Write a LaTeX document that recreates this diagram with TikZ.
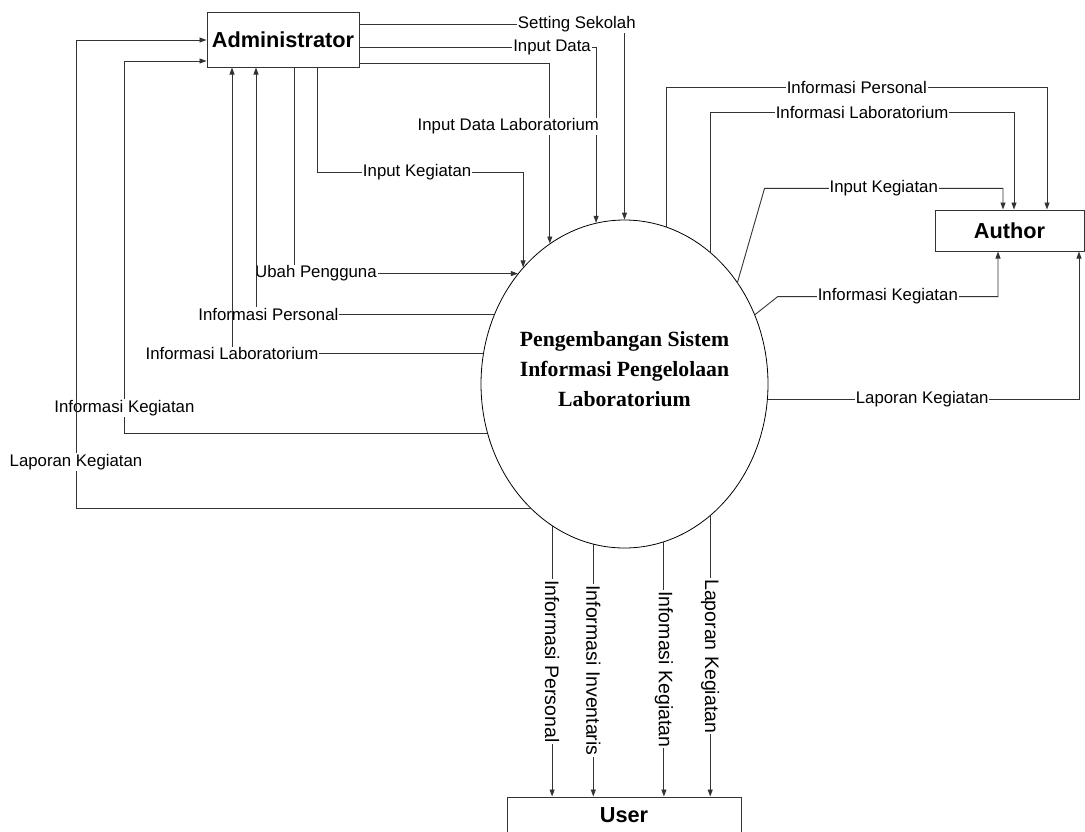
\documentclass[tikz,border=0pt]{standalone}
\usepackage{fontspec}
\setmainfont{Liberation Sans}
\newfontfamily\procfont{Liberation Serif}
\usetikzlibrary{arrows.meta,shapes.geometric}

\begin{document}
\begin{tikzpicture}[x=1pt,y=-1pt,
  flow/.style={draw=black!80, line width=0.9pt, -{Triangle[length=7pt,width=5pt]}},
  lbl/.style={fill=white, inner sep=1pt, text=black, font=\fontsize{16.8}{19}\selectfont},
  vlbl/.style={lbl, rotate=-90, font=\fontsize{19.5}{22}\selectfont},
  entity/.style={draw=black!80, line width=1pt, fill=white, inner sep=0pt,
    font=\bfseries\fontsize{21.7}{24}\selectfont},
]
\useasboundingbox (0,0) rectangle (1085,831);

% external entities and the process
\node[entity, minimum width=152pt, minimum height=55pt] (admin) at (283,39.5) {Administrator};
\node[entity, minimum width=149pt, minimum height=41pt] (author) at (1009.5,230.5) {Author};
\node[entity, minimum width=234pt, minimum height=37pt] (user) at (624,815.5) {User};
\node[ellipse, draw=black, line width=0.8pt, minimum width=287pt, minimum height=328pt,
      inner sep=0pt] (proc) at (624.5,384) {};
\node[font=\procfont\bfseries\fontsize{21.7}{30}\selectfont, align=center, inner sep=0pt]
  (proctext) at ([yshift=14.5pt]proc.center)
  {Pengembangan Sistem\\Informasi Pengelolaan\\Laboratorium};

% Administrator -> process
\draw[flow] ([yshift=15.5pt]admin.east) -| node[lbl,pos=0.41]{Setting Sekolah} (proc.north);
\draw[flow] ([yshift=-7.5pt]admin.east) -| node[lbl,pos=0.407]{Input Data} (proc.100.06);
\draw[flow] ([yshift=-23.5pt]admin.east) -| node[lbl,pos=0.676,xshift=-41.5pt]{Input Data Laboratorium} (proc.118.4);
\draw[flow] ([xshift=34pt]admin.south) -- ++(0,105) -| node[lbl,pos=0.243]{Input Kegiatan} (proc.131.2);
\draw[flow] ([xshift=11pt]admin.south) |- node[lbl,pos=0.549]{Ubah Pengguna} (proc.134.5);

% process -> Administrator
\draw[flow] (proc.152.5) -| node[lbl,pos=0.474]{Informasi Personal} ([xshift=-27pt]admin.south);
\draw[flow] (proc.168.8) -| node[lbl,pos=0.5]{Informasi Laboratorium} ([xshift=-51pt]admin.south);
\draw[flow] (proc.200.1) -- ++(-363,0) |- node[lbl,pos=0.035]{Informasi Kegiatan} ([yshift=-21.5pt]admin.west);
\draw[flow] (proc.233.4) -- ++(-454.6,0) |- node[lbl,pos=0.05]{Laporan Kegiatan} ([yshift=-0.5pt]admin.west);

% process -> Author
\draw[flow] (proc.75.56) -- ++(0,-139.7) -| node[lbl,pos=0.25]{Informasi Personal} ([xshift=37.5pt]author.north);
\draw[flow] (proc.57.47) -- ++(0,-139.5) -| node[lbl,pos=0.25]{Informasi Laboratorium} ([xshift=4.5pt]author.north);
\draw[flow] (proc.42.78) -- ++(27,-93.8) -| node[lbl,pos=0.25]{Input Kegiatan} ([xshift=-6.5pt]author.north);
\draw[flow] (proc.28.3) -- ++(22.7,-18) -| node[lbl,pos=0.25]{Informasi Kegiatan} ([xshift=-11.5pt]author.south);
\draw[flow] (proc.-6) -| node[lbl,pos=0.248]{Laporan Kegiatan} ([xshift=69.5pt]author.south);

% process -> User
\draw[flow] (proc.243.7) -- node[vlbl,pos=0.5]{Informasi Personal} (proc.243.7 |- user.north);
\draw[flow] (proc.259.9) -- node[vlbl,pos=0.5]{Informasi Inventaris} (proc.259.9 |- user.north);
\draw[flow] (proc.284.4) -- node[vlbl,pos=0.5]{Infomasi Kegiatan} (proc.284.4 |- user.north);
\draw[flow] (proc.303.5) -- node[vlbl,pos=0.5]{Laporan Kegiatan} (proc.303.5 |- user.north);
\end{tikzpicture}
\end{document}
